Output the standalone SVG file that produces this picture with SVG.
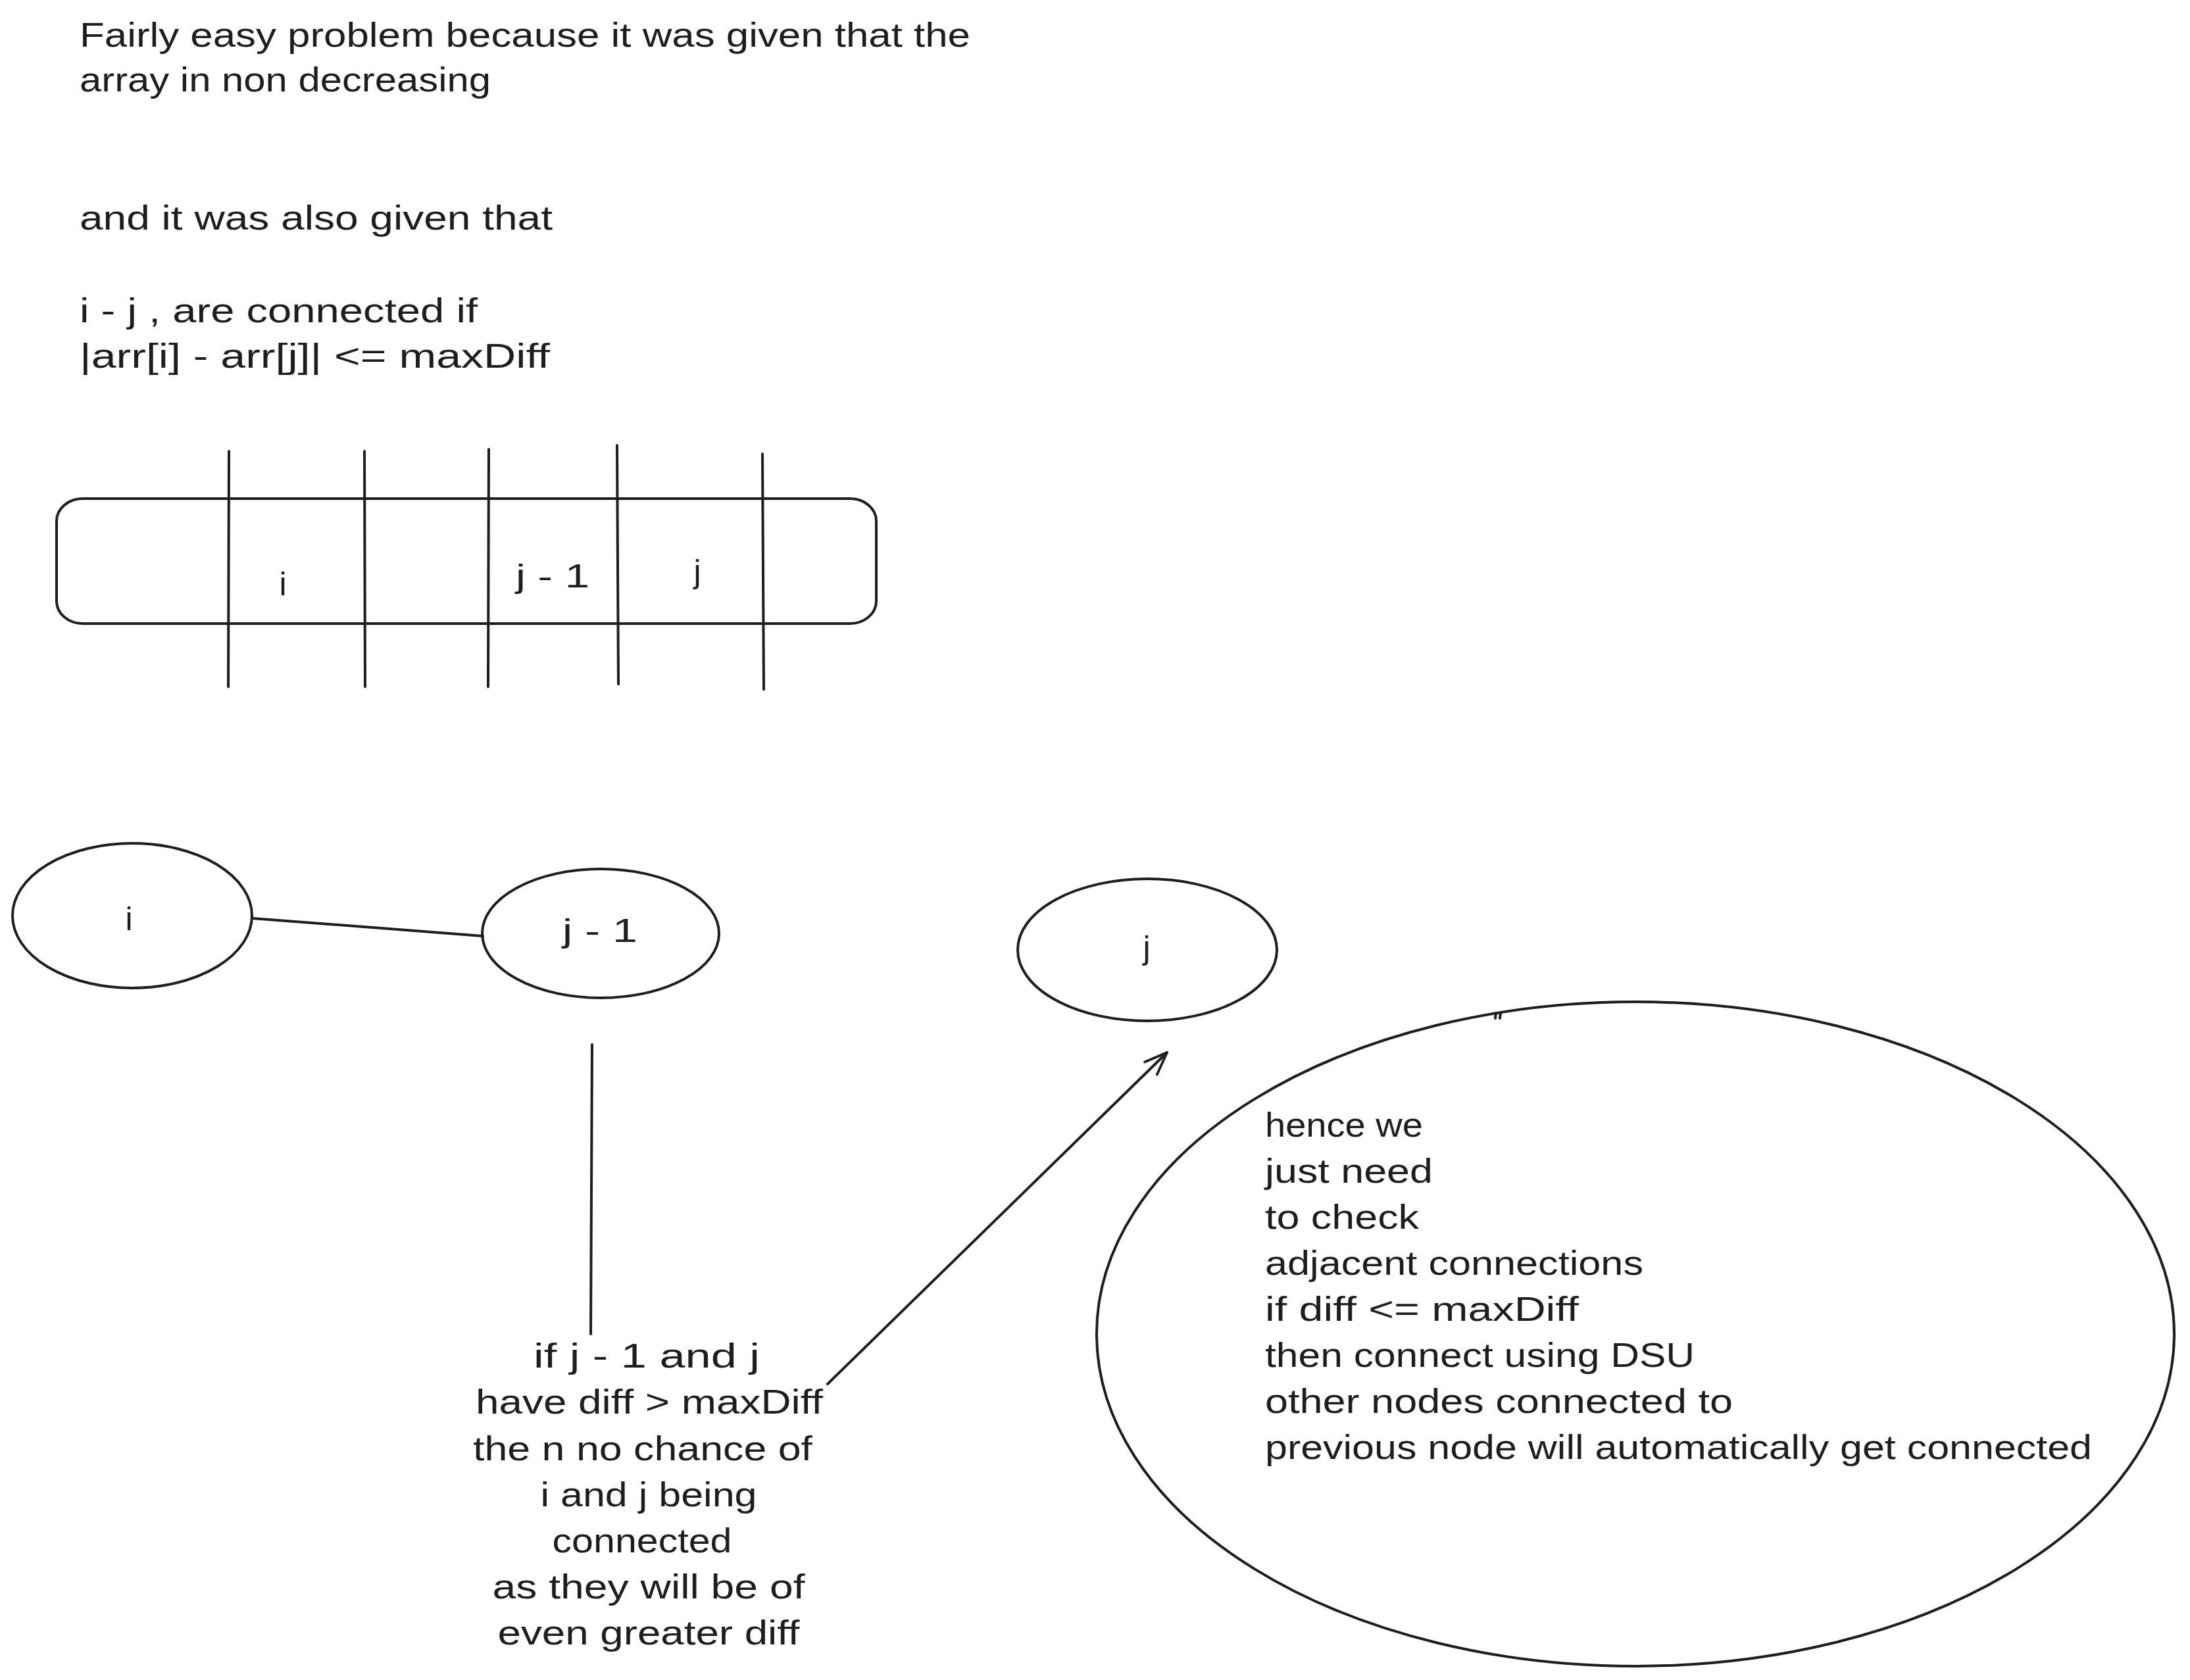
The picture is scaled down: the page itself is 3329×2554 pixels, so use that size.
<svg xmlns="http://www.w3.org/2000/svg" width="3329" height="2554" viewBox="0 0 3329 2554">
<style>
.s{fill:none;stroke:#1e1e1e;stroke-width:4;stroke-linecap:round;stroke-linejoin:round}
.t{font-family:"Liberation Sans",Arial,sans-serif;font-size:52px;fill:#1e1e1e}
.c{font-family:"Liberation Sans",Arial,sans-serif;font-size:50px;fill:#1e1e1e;text-anchor:middle}
.m{text-anchor:middle}
</style>
<defs>
<marker id="ah" markerWidth="40" markerHeight="40" refX="0" refY="0" orient="auto" markerUnits="userSpaceOnUse" viewBox="-40 -20 42 40">
<path d="M-36,-14 L0,0 L-36,14" fill="none" stroke="#1e1e1e" stroke-width="4" stroke-linecap="round"/>
</marker>
</defs>
<rect width="3329" height="2554" fill="#ffffff"/>
<g id="intro-text">
<text class="t" x="121" y="71" textLength="1354" lengthAdjust="spacingAndGlyphs">Fairly easy problem because it was given that the</text>
<text class="t" x="121" y="139" textLength="625" lengthAdjust="spacingAndGlyphs">array in non decreasing</text>
<text class="t" x="121" y="349" textLength="719" lengthAdjust="spacingAndGlyphs">and it was also given that</text>
<text class="t" x="121" y="490" textLength="605" lengthAdjust="spacingAndGlyphs">i - j , are connected if</text>
<text class="t" x="121" y="559" textLength="715" lengthAdjust="spacingAndGlyphs">|arr[i] - arr[j]| &lt;= maxDiff</text>
</g>
<g id="array">
<rect class="s" x="86" y="758" width="1246" height="190" rx="40" ry="34" stroke-width="5"/>
<line class="s" x1="348" y1="686" x2="347" y2="1044"/>
<line class="s" x1="554" y1="686" x2="555" y2="1044"/>
<line class="s" x1="743" y1="683" x2="742" y2="1044"/>
<line class="s" x1="938" y1="677" x2="940" y2="1040"/>
<line class="s" x1="1159" y1="690" x2="1161" y2="1048"/>
<text class="c" x="430" y="905">i</text>
<text class="c" x="840" y="893" textLength="112" lengthAdjust="spacingAndGlyphs">j - 1</text>
<text class="c" x="1060" y="886">j</text>
</g>
<g id="connectors">
<line class="s" x1="383" y1="1396" x2="734" y2="1423"/>
<line class="s" x1="900" y1="1588" x2="898" y2="2028"/>
<line class="s" x1="1258" y1="2104" x2="1774" y2="1600" marker-end="url(#ah)"/>
</g>
<g id="node-i">
<ellipse class="s" cx="201" cy="1392" rx="182" ry="110"/>
<text class="c" x="196" y="1414">i</text>
</g>
<g id="node-j-1">
<ellipse class="s" cx="913" cy="1419" rx="180" ry="98"/>
<text class="c" x="912" y="1432" textLength="114" lengthAdjust="spacingAndGlyphs">j - 1</text>
</g>
<g id="node-j">
<ellipse class="s" cx="1744" cy="1444" rx="197" ry="108"/>
<text class="c" x="1743" y="1458">j</text>
</g>
<g id="note-bottom">
<text class="t m" x="983" y="2079" textLength="344" lengthAdjust="spacingAndGlyphs">if j - 1 and j</text>
<text class="t m" x="987" y="2149" textLength="528" lengthAdjust="spacingAndGlyphs">have diff &gt; maxDiff</text>
<text class="t m" x="977" y="2220" textLength="516" lengthAdjust="spacingAndGlyphs">the n no chance of</text>
<text class="t m" x="986" y="2290" textLength="329" lengthAdjust="spacingAndGlyphs">i and j being</text>
<text class="t m" x="976" y="2360" textLength="273" lengthAdjust="spacingAndGlyphs">connected</text>
<text class="t m" x="986" y="2430" textLength="475" lengthAdjust="spacingAndGlyphs">as they will be of</text>
<text class="t m" x="986" y="2500" textLength="459" lengthAdjust="spacingAndGlyphs">even greater diff</text>
</g>
<g id="note-circle">
<ellipse class="s" cx="2486" cy="2028" rx="819" ry="505"/>
<path class="s" d="M2274,1540 L2273,1548 M2281,1540 L2280,1548" stroke-width="2"/>
<text class="t" x="1923" y="1728" textLength="240" lengthAdjust="spacingAndGlyphs">hence we</text>
<text class="t" x="1923" y="1798" textLength="255" lengthAdjust="spacingAndGlyphs">just need</text>
<text class="t" x="1923" y="1868" textLength="234" lengthAdjust="spacingAndGlyphs">to check</text>
<text class="t" x="1923" y="1938" textLength="575" lengthAdjust="spacingAndGlyphs">adjacent connections</text>
<text class="t" x="1923" y="2008" textLength="477" lengthAdjust="spacingAndGlyphs">if diff &lt;= maxDiff</text>
<text class="t" x="1923" y="2078" textLength="653" lengthAdjust="spacingAndGlyphs">then connect using DSU</text>
<text class="t" x="1923" y="2148" textLength="711" lengthAdjust="spacingAndGlyphs">other nodes connected to</text>
<text class="t" x="1923" y="2218" textLength="1257" lengthAdjust="spacingAndGlyphs">previous node will automatically get connected</text>
</g>
</svg>
